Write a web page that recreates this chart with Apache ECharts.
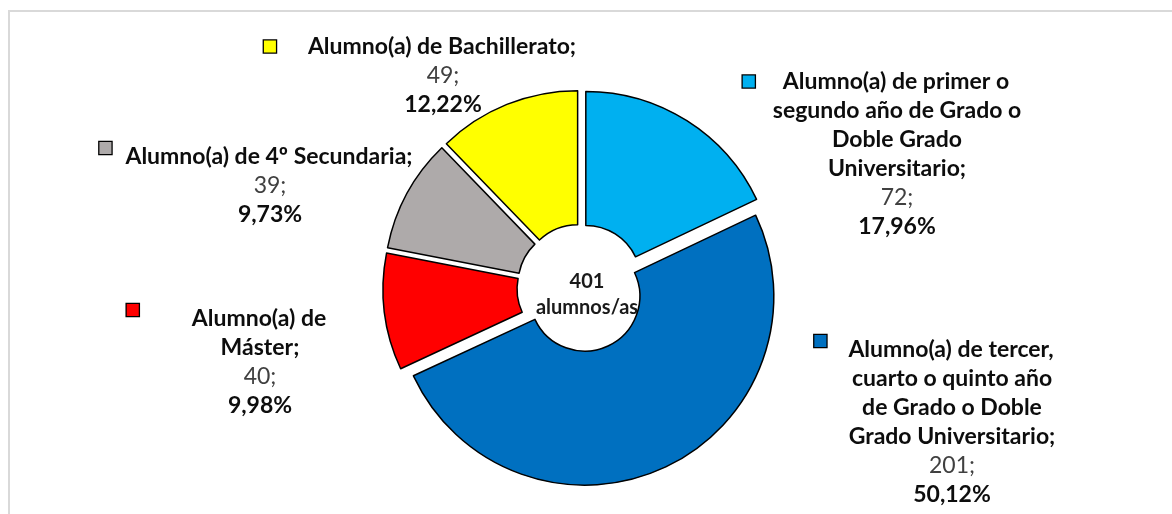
<!DOCTYPE html>
<html>
<head>
<meta charset="utf-8">
<script src="https://cdn.jsdelivr.net/npm/echarts@6/dist/echarts.min.js"></script>
<style>
  html, body { margin: 0; padding: 0; background: #fff; }
  #chart { width: 1172px; height: 514px; }
</style>
</head>
<body>
<div id="chart"></div>
<script>
// datos del gráfico
var categories = [
    'Alumno(a) de primer o segundo año de Grado o Doble Grado Universitario',
    'Alumno(a) de tercer, cuarto o quinto año de Grado o Doble Grado Universitario',
    'Alumno(a) de Máster',
    'Alumno(a) de 4º Secundaria',
    'Alumno(a) de Bachillerato'
];
// cortes de línea de las etiquetas (como en el original)
var titleLines = [
    ['Alumno(a) de primer o', 'segundo año de Grado o', 'Doble Grado', 'Universitario;'],
    ['Alumno(a) de tercer,', 'cuarto o quinto año', 'de Grado o Doble', 'Grado Universitario;'],
    ['Alumno(a) de', 'Máster;'],
    ['Alumno(a) de 4º Secundaria;'],
    ['Alumno(a) de Bachillerato;']
];
var values = [72, 201, 40, 39, 49];
var totalText = ['401', 'alumnos/as'];

var colors = ['#00B0F0', '#0070C0', '#FF0000', '#AEAAAA', '#FFFF00'];

// posición de cada etiqueta (centro x, borde superior) y hueco entre la clave y el texto
var labelX = [897, 952, 260, 270, 443];
var labelTop = [67, 335, 304, 142, 32];
var keyGap = [28, 22, 53, 14, 32];
var keyAlign = ['middle', 'top', 'top', 'top', 'middle'];

var total = values.reduce(function (a, b) { return a + b; }, 0);
var FONT = 'Lato, "Open Sans", sans-serif';
var LH = 29;
var FS = 23;

// sectores (todos separados un poco del centro)
var pieData = values.map(function (v, i) {
    return {
        name: categories[i],
        value: v,
        selected: true,
        itemStyle: { color: colors[i] }
    };
});

// etiquetas de datos, en una serie invisible sin separación
var labelData = values.map(function (v, i) {
    var pct = (v / total * 100).toFixed(2).replace('.', ',') + '%';
    var lines = titleLines[i].map(function (t, j) {
        if (j === 0) return '{k|}{g|}{t|' + t + '}{p|}';
        return '{t|' + t + '}';
    });
    lines.push('{n|' + v + ';}');
    lines.push('{b|' + pct + '}');
    return {
        name: categories[i],
        value: v,
        label: {
            formatter: lines.join('\n'),
            rich: {
                k: {
                    width: 12, height: 12,
                    backgroundColor: colors[i],
                    borderColor: '#000', borderWidth: 1.3,
                    verticalAlign: keyAlign[i],
                    lineHeight: LH
                },
                g: { width: keyGap[i], lineHeight: LH },
                p: { width: keyGap[i] + 14, lineHeight: LH },
                t: { fontFamily: FONT, fontWeight: 'bold', fontSize: FS, color: '#0d0d0d', lineHeight: LH },
                n: { fontFamily: FONT, fontSize: FS, color: '#404040', lineHeight: LH },
                b: { fontFamily: FONT, fontWeight: 'bold', fontSize: FS, color: '#0d0d0d', lineHeight: LH }
            }
        }
    };
});

var chart = echarts.init(document.getElementById('chart'));
var option = {
    animation: false,
    backgroundColor: '#fff',
    graphic: [
        {   // marco del área del gráfico
            type: 'rect', z: 0, silent: true,
            shape: { x: 9, y: 11, width: 1300, height: 700 },
            style: { fill: 'none', stroke: '#d9d9d9', lineWidth: 2 }
        },
        {   // total en el centro
            type: 'text', z: 100, silent: true,
            x: 587, y: 295,
            style: {
                text: totalText.join('\n'),
                fontFamily: FONT, fontWeight: 'bold', fontSize: 20,
                fill: '#1a1a1a', align: 'center', verticalAlign: 'middle',
                lineHeight: 26
            }
        }
    ],
    series: [{
        type: 'pie',
        center: [581, 288],
        radius: [55, 189],
        startAngle: 90,
        clockwise: true,
        avoidLabelOverlap: false,
        selectedMode: 'multiple',
        selectedOffset: 9,
        itemStyle: { borderColor: '#000', borderWidth: 1.5 },
        select: { itemStyle: { borderColor: '#000', borderWidth: 1.5 } },
        emphasis: { disabled: true },
        label: { show: false },
        labelLine: { show: false },
        data: pieData
    }, {
        type: 'pie',
        silent: true,
        z: 5,
        center: [581, 288],
        radius: [55, 189],
        startAngle: 90,
        clockwise: true,
        avoidLabelOverlap: false,
        selectedMode: false,
        itemStyle: { color: 'rgba(0,0,0,0)', borderWidth: 0 },
        emphasis: { disabled: true },
        label: { show: true, position: 'outside', align: 'center' },
        labelLine: { show: false },
        labelLayout: function (params) {
            var i = params.dataIndex;
            return { x: labelX[i], y: labelTop[i], align: 'center', verticalAlign: 'top', hideOverlap: false };
        },
        data: labelData
    }]
};
chart.setOption(option);
</script>
</body>
</html>
